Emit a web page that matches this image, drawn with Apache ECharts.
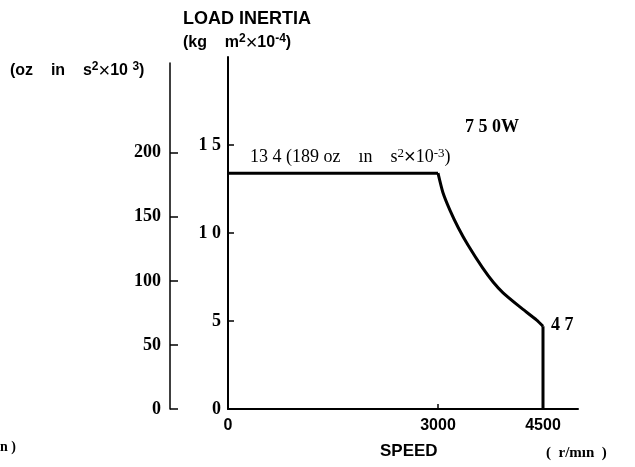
<!DOCTYPE html>
<html>
<head>
<meta charset="utf-8">
<script src="https://cdn.jsdelivr.net/npm/echarts@6/dist/echarts.min.js"></script>
<style>
  html, body { margin: 0; padding: 0; background: #fff; }
  #chart { width: 635px; height: 467px; }
</style>
</head>
<body>
<div id="chart"></div>
<script>
// speed (r/min) vs allowable load inertia (kg m2 x10^-4)
const flatSpeed = [0, 3000]
const flatInertia = [13.4, 13.4]
const curveSpeed = [3000, 3070, 3170, 3290, 3430, 3640, 3790, 3930, 4170, 4410, 4500]
const curveInertia = [13.4, 12.3, 11.3, 10.3, 9.3, 8.0, 7.2, 6.6, 5.8, 5.05, 4.7]
const dropSpeed = [4500, 4500]
const dropInertia = [4.7, 0]
const speedTicks = [0, 3000, 4500]
const kgTicks = [0, 5, 10, 15]
const ozTicks = [0, 50, 100, 150, 200]

const serif = '"Liberation Serif", "DejaVu Serif", serif'
const sans = '"Liberation Sans", Arial, sans-serif'

const pairs = (xs, ys) => xs.map((x, i) => [x, ys[i]])

// superscript styles for the unit labels
const unitRich = (size) => ({
  t: { fontFamily: sans, fontWeight: 'bold', fontSize: size, color: '#000' },
  sup: { fontFamily: sans, fontWeight: 'bold', fontSize: size - 4, color: '#000', verticalAlign: 'top', padding: [0, 0, 6, 0] },
  x: { fontFamily: sans, fontSize: size + 4, color: '#000' }
})

const chart = echarts.init(document.getElementById('chart'))

const lineStyle = { color: '#000', width: 3, join: 'miter' }

const option = {
  backgroundColor: '#fff',
  animation: false,
  grid: [
    { left: 228, top: 57, width: 350, height: 352 },
    { left: 170, top: 63, width: 10, height: 346 }
  ],
  xAxis: [
    {
      type: 'value', gridIndex: 0, min: 0, max: 5000,
      axisLine: { lineStyle: { color: '#000', width: 2 } },
      axisTick: { inside: true, length: 5, customValues: [3000], lineStyle: { color: '#000', width: 1.5 } },
      axisLabel: {
        customValues: speedTicks, color: '#000', fontFamily: sans, fontWeight: 'bold', fontSize: 16, margin: 9,
        formatter: (v) => String(v)
      },
      splitLine: { show: false }
    },
    { type: 'value', gridIndex: 1, show: false, min: 0, max: 1 }
  ],
  yAxis: [
    {
      type: 'value', gridIndex: 0, min: 0, max: 20,
      axisLine: { show: true, lineStyle: { color: '#000', width: 2 } },
      axisTick: { show: true, inside: true, length: 6, customValues: kgTicks, lineStyle: { color: '#000', width: 1.5 } },
      axisLabel: {
        customValues: kgTicks, color: '#000', fontFamily: serif, fontWeight: 'bold', fontSize: 18, margin: 7,
        formatter: (v) => String(v).split('').join(' ')
      },
      splitLine: { show: false }
    },
    {
      type: 'value', gridIndex: 1, min: 0, max: 270,
      axisLine: { show: true, lineStyle: { color: '#000', width: 1.5 } },
      axisTick: { show: true, inside: true, length: 8, customValues: ozTicks, lineStyle: { color: '#000', width: 1.5 } },
      axisLabel: { customValues: ozTicks, color: '#000', fontFamily: serif, fontWeight: 'bold', fontSize: 18, margin: 9 },
      splitLine: { show: false }
    }
  ],
  series: [
    { type: 'line', data: pairs(flatSpeed, flatInertia), showSymbol: false, lineStyle },
    { type: 'line', data: pairs(curveSpeed, curveInertia), showSymbol: false, smooth: 0.2, lineStyle },
    { type: 'line', data: pairs(dropSpeed, dropInertia), showSymbol: false, lineStyle }
  ],
  graphic: [
    { type: 'text', left: 183, top: 10, style: { text: 'LOAD INERTIA', font: 'bold 18px ' + sans, fill: '#000' } },
    {
      type: 'text', left: 183, top: 33,
      style: { text: '{t|(kg    m}{sup|2}{x|×}{t|10}{sup|-4}{t|)}', rich: unitRich(16) }
    },
    {
      type: 'text', left: 10, top: 61,
      style: { text: '{t|(oz    in    s}{sup|2}{x|×}{t|10 }{sup|3}{t|)}', rich: unitRich(16) }
    },
    {
      type: 'text', left: 250, top: 147,
      style: {
        text: '{n|13 4 (189 oz    ın    s}{s|2}{x|×}{n|10}{s|-3}{n|)}',
        rich: {
          n: { fontFamily: serif, fontSize: 18, color: '#000' },
          s: { fontFamily: serif, fontSize: 13, color: '#000', verticalAlign: 'top', padding: [0, 0, 7, 0] },
          x: { fontFamily: sans, fontSize: 20, color: '#000' }
        }
      }
    },
    { type: 'text', left: 465, top: 118, style: { text: '7 5 0W', font: 'bold 18px ' + serif, fill: '#000' } },
    { type: 'text', left: 551, top: 316, style: { text: '4 7', font: 'bold 18px ' + serif, fill: '#000' } },
    { type: 'text', left: 380, top: 443, style: { text: 'SPEED', font: 'bold 17px ' + sans, fill: '#000' } },
    { type: 'text', left: 546, top: 446, style: { text: '(  r/mın  )', font: 'bold 15px ' + serif, fill: '#000' } },
    { type: 'text', left: 0, top: 440, style: { text: 'n )', font: 'bold 14px ' + serif, fill: '#000' } }
  ]
}

chart.setOption(option)
</script>
</body>
</html>
